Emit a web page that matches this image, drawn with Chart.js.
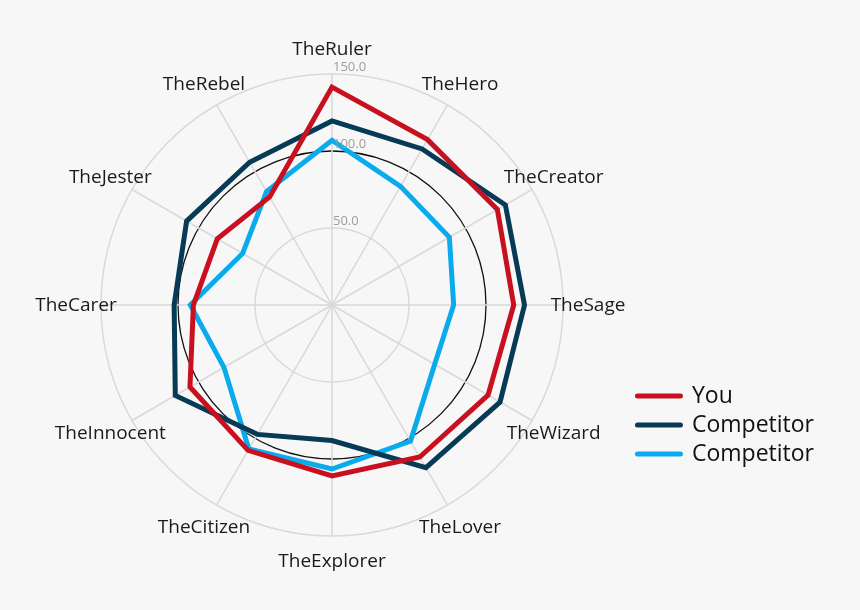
<!DOCTYPE html>
<html>
<head>
<meta charset="utf-8">
<script src="https://cdn.jsdelivr.net/npm/chart.js@4"></script>
<style>
  html, body { margin: 0; padding: 0; background: #f7f7f7; }
  #wrap { width: 860px; height: 610px; position: relative; }
</style>
</head>
<body>
<div id="wrap"><canvas id="archetypeChart"></canvas></div>
<script>
const labels = ['TheRuler', 'TheHero', 'TheCreator', 'TheSage', 'TheWizard', 'TheLover',
    'TheExplorer', 'TheCitizen', 'TheInnocent', 'TheCarer', 'TheJester', 'TheRebel'];
const seriesNames = ['You', 'Competitor', 'Competitor'];
const youValues = [141.5, 124, 124, 118, 117, 114, 111, 109, 106.5, 90, 86, 81];
const competitor1Values = [119.5, 117, 130, 125, 126, 122, 88, 97, 117.5, 102.5, 109, 107];
const competitor2Values = [107, 89, 88, 79, 77, 102, 106.5, 108, 81, 92, 67, 85];
const tickValues = [50, 100, 150];
const colors = ['#c8101f', '#063a55', '#0aabec'];

// point labels centred on the axis, tick labels left-aligned above each ring
const labelPlugin = {
    id: 'archetypeLabels',
    afterDraw(chart) {
        const r = chart.scales.r;
        const ctx = chart.ctx;
        ctx.save();
        ctx.font = '19px "Open Sans"';
        ctx.fillStyle = '#1a1a1a';
        ctx.textAlign = 'center';
        ctx.textBaseline = 'middle';
        chart.data.labels.forEach((label, i) => {
            const p = r.getPointPosition(i, r.drawingArea + 25);
            ctx.fillText(label, p.x, p.y + 1);
        });
        ctx.font = '13px "Open Sans"';
        ctx.fillStyle = '#9d9d9d';
        ctx.textAlign = 'left';
        ctx.textBaseline = 'alphabetic';
        tickValues.forEach(v => {
            const d = r.getDistanceFromCenterForValue(v);
            ctx.fillText(v.toFixed(1), r.xCenter + 1, r.yCenter - d - 3);
        });
        ctx.restore();
    }
};

const datasets = [youValues, competitor1Values, competitor2Values].map((values, i) => ({
    label: seriesNames[i],
    data: values,
    borderColor: colors[i],
    backgroundColor: colors[i],
    borderWidth: 5,
    fill: false,
    pointRadius: 0,
    pointHoverRadius: 0,
    pointBorderWidth: 5,
    pointBorderColor: colors[i],
    pointStyle: 'line'
}));

new Chart(document.getElementById('archetypeChart'), {
    type: 'radar',
    data: { labels: labels, datasets: datasets },
    options: {
        responsive: true,
        maintainAspectRatio: false,
        animation: false,
        layout: { padding: { left: 33, right: 36, top: 74, bottom: 74 } },
        elements: { line: { tension: 0, borderJoinStyle: 'miter' } },
        scales: {
            r: {
                min: 0,
                max: 150,
                ticks: { stepSize: 50, display: false },
                pointLabels: { display: false },
                grid: {
                    circular: true,
                    color: ctx => ctx.tick && ctx.tick.value === 100 ? '#111' : '#d9d9d9',
                    lineWidth: ctx => ctx.tick && ctx.tick.value === 100 ? 1.3 : 1.5
                },
                angleLines: { color: '#d9d9d9', lineWidth: 1.5 }
            }
        },
        plugins: {
            tooltip: { enabled: false },
            legend: {
                position: 'right',
                title: { display: true, text: ' ', font: { size: 10 }, padding: { top: 0, bottom: 228 } },
                labels: {
                    usePointStyle: true,
                    pointStyle: 'line',
                    pointStyleWidth: 43,
                    padding: 6,
                    color: '#111',
                    font: { family: 'Open Sans', size: 23 },
                    generateLabels: chart => Chart.defaults.plugins.legend.labels.generateLabels(chart)
                        .map(item => ({ ...item, lineCap: 'round', lineWidth: 5 }))
                }
            }
        }
    },
    plugins: [labelPlugin]
});
</script>
</body>
</html>
